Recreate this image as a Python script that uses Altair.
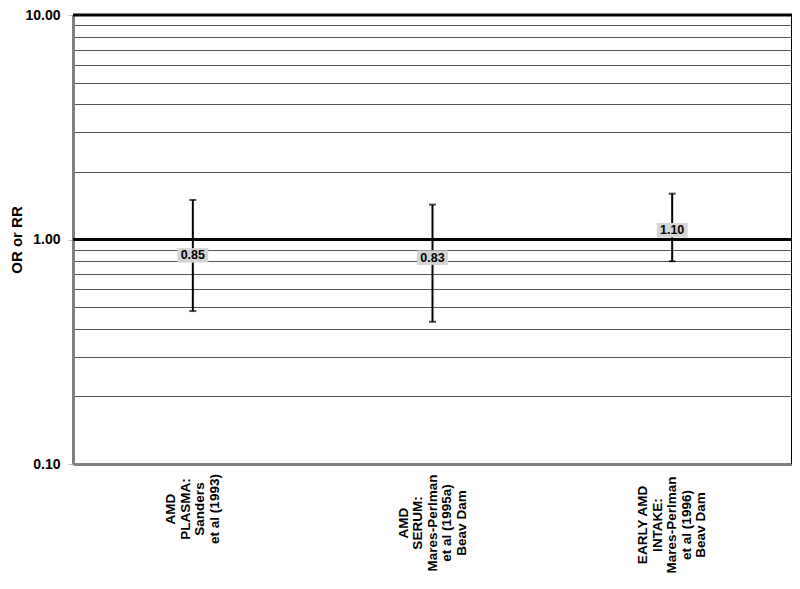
import altair as alt
import pandas as pd

# ---- data ----
categories = ["c1", "c2", "c3"]
cat_labels = [
    "AMD\nPLASMA:\nSanders\net al (1993)",
    "AMD\nSERUM:\nMares-Perlman\net al (1995a)\nBeav Dam",
    "EARLY AMD\nINTAKE:\nMares-Perlman\net al (1996)\nBeav Dam",
]
or_values = [0.85, 0.83, 1.10]
low_values = [0.48, 0.43, 0.80]
high_values = [1.50, 1.43, 1.60]
grid_values = [0.1, 0.2, 0.3, 0.4, 0.5, 0.6, 0.7, 0.8, 0.9,
               1, 2, 3, 4, 5, 6, 7, 8, 9, 10]
major_values = [1, 10]

df = pd.DataFrame({
    "cat": categories,
    "label": cat_labels,
    "or": or_values,
    "lo": low_values,
    "hi": high_values,
})
major_df = pd.DataFrame({"v": major_values})

W, H = 719, 449
FONT = "Liberation Sans"
LH = 14.5
label_centers = [494, 508, 510]  # layout: vertical centre of each rotated label block (plot coords)

yscale = alt.Scale(type="log", domain=[0.1, 10], nice=False)
xenc = alt.X("cat:N", sort=categories, scale=alt.Scale(paddingInner=0, paddingOuter=0),
             axis=alt.Axis(labels=False, ticks=False, title=None, domainColor="#808080",
                           domainWidth=3, grid=False))

base = alt.Chart(df)

bars = base.mark_rule(color="black", strokeWidth=2).encode(
    x=xenc,
    y=alt.Y("lo:Q", scale=yscale, axis=alt.Axis(
        values=grid_values,
        labelExpr="(datum.value == 0.1 || datum.value == 1 || datum.value == 10) ? format(datum.value, '.2f') : ''",
        grid=True, gridColor="#555555", gridWidth=1,
        tickColor={"condition": {"test": "datum.value == 0.1 || datum.value == 1 || datum.value == 10", "value": "#bbbbbb"}, "value": "transparent"},
        tickSize=5, labelPadding=8,
        labelFont=FONT, labelFontSize=14, labelFontWeight="bold", labelColor="black",
        domainColor="#808080", domainWidth=3,
        title="OR or RR", titleFont=FONT, titleFontSize=15, titleFontWeight="bold",
        titleColor="black", titleAngle=270, titleBaseline="top", titleAlign="center",
        titleX=-64, titleY=H / 2,
    )),
    y2="hi:Q",
)

cap_lo = base.mark_tick(color="black", thickness=2, size=7, orient="horizontal").encode(
    x=alt.X("cat:N", sort=categories), y=alt.Y("lo:Q", scale=yscale))
cap_hi = base.mark_tick(color="black", thickness=2, size=7, orient="horizontal").encode(
    x=alt.X("cat:N", sort=categories), y=alt.Y("hi:Q", scale=yscale))

majors = alt.Chart(major_df).mark_rule(color="black", strokeWidth=3).encode(
    y=alt.Y("v:Q", scale=yscale))

right_border = alt.Chart(major_df).mark_rule(color="black", strokeWidth=2).encode(
    x=alt.value(W), y=alt.value(0), y2=alt.value(H))

boxes = base.mark_point(
    shape="M-1,-0.47L1,-0.47L1,0.47L-1,0.47Z", size=950, filled=True,
    fill="#d4d4d4", opacity=1, strokeWidth=0,
).encode(x=alt.X("cat:N", sort=categories), y=alt.Y("or:Q", scale=yscale))

values = base.mark_text(font=FONT, fontSize=12.5, fontWeight="bold", color="black",
                        baseline="middle", align="center").encode(
    x=alt.X("cat:N", sort=categories), y=alt.Y("or:Q", scale=yscale),
    text=alt.Text("or:Q", format=".2f"))

label_layers = []
for c, lab, yc in zip(categories, cat_labels, label_centers):
    n = lab.count("\n") + 1
    label_layers.append(
        base.transform_filter(alt.datum.cat == c).mark_text(
            font=FONT, fontSize=13.5, fontWeight="bold", color="black",
            angle=270, align="center", baseline="middle", lineBreak="\n", lineHeight=LH,
            dy=-(n - 1) * LH / 2,
        ).encode(x=alt.X("cat:N", sort=categories), y=alt.value(yc), text="label:N")
    )

chart = alt.layer(bars, cap_lo, cap_hi, majors, right_border, boxes, values, *label_layers).properties(
    width=W, height=H,
    autosize=alt.AutoSizeParams(type="none"),
    padding={"left": 65, "top": 7, "right": 0, "bottom": 114},
).configure_view(stroke=None).configure(background="white")

chart.save("out.html", embed_options={"renderer": "svg", "actions": False})
